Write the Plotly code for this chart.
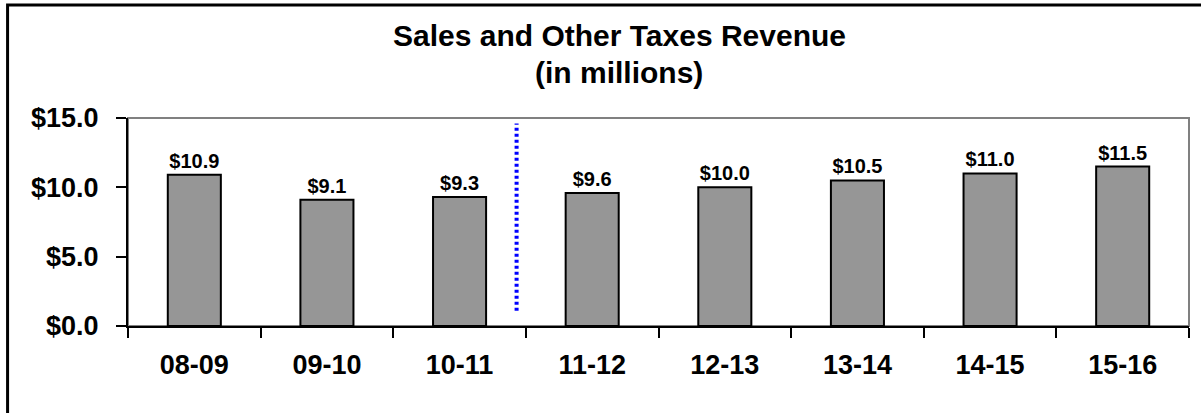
import plotly.graph_objects as go

categories = ["08-09", "09-10", "10-11", "11-12", "12-13", "13-14", "14-15", "15-16"]
revenue = [10.9, 9.1, 9.3, 9.6, 10.0, 10.5, 11.0, 11.5]
labels = ["$%.1f" % v for v in revenue]
y_ticks = [0, 5, 10, 15]
y_tick_text = ["$%.1f" % v for v in y_ticks]
divider_x = 2.43
divider_y = [1.1, 14.6]

FONT = "Liberation Sans, Arial, sans-serif"

fig = go.Figure()
fig.add_trace(go.Bar(
    x=categories, y=revenue, text=labels, textposition="outside",
    textfont=dict(family=FONT, size=20, color="black", weight="bold"),
    marker=dict(color="#969696", line=dict(color="black", width=2)),
    cliponaxis=False, width=0.4,
))

fig.add_shape(type="line", xref="x", yref="y", x0=divider_x, x1=divider_x,
              y0=divider_y[0], y1=divider_y[1],
              line=dict(color="#0000FF", width=4, dash="3px,3px"))
# plot-area border (gray)
fig.add_shape(type="rect", xref="paper", yref="paper", x0=0, x1=1, y0=0, y1=1,
              line=dict(color="#808080", width=2), layer="below")
# outer chart border
fig.add_shape(type="rect", xref="paper", yref="paper", x0=-0.1135, x1=1.06, y0=-0.6, y1=1.543,
              line=dict(color="black", width=3), layer="below")

fig.add_annotation(text="Sales and Other Taxes Revenue", xref="paper", yref="paper",
                   x=0.4628, y=1.399, showarrow=False, xanchor="center", yanchor="middle",
                   font=dict(family=FONT, size=30, color="black", weight="bold"))
fig.add_annotation(text="(in millions)", xref="paper", yref="paper",
                   x=0.4628, y=1.221, showarrow=False, xanchor="center", yanchor="middle",
                   font=dict(family=FONT, size=30, color="black", weight="bold"))

fig.update_layout(
    width=1201, height=413,
    margin=dict(l=128, r=12, t=118, b=87),
    paper_bgcolor="white", plot_bgcolor="white",
    showlegend=False,
    font=dict(family=FONT, color="black"),
)
fig.update_xaxes(
    type="category", showline=True, linecolor="black", linewidth=2,
    ticks="outside", tickson="boundaries", ticklen=10, tickwidth=2, tickcolor="black",
    tickfont=dict(family=FONT, size=27, color="black", weight="bold"),
    showgrid=False, ticklabelstandoff=14, range=[-0.5, 7.5],
)
fig.update_yaxes(
    range=[0, 15], tickmode="array", tickvals=y_ticks, ticktext=y_tick_text,
    showline=True, linecolor="black", linewidth=2,
    ticks="outside", ticklen=10, tickwidth=2, tickcolor="black",
    tickfont=dict(family=FONT, size=27, color="black", weight="bold"),
    showgrid=False, zeroline=False, ticklabelstandoff=12,
)

fig.write_html("out.html")
